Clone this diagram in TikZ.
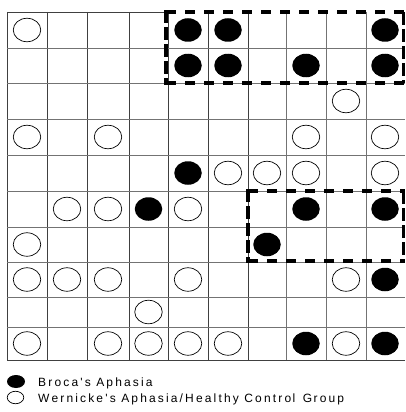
\documentclass[tikz,border=0pt]{standalone}
\usepackage{fontspec}
\usetikzlibrary{shapes.geometric}
\newfontfamily\legfont[LetterSpace=18]{Liberation Sans}
\begin{document}
\begin{tikzpicture}[x=1pt,y=-1pt,
  gridline/.style={line width=0.8pt,black!75},
  gridlight/.style={line width=0.8pt,black!55},
  dot/.style={ellipse,minimum width=27.5pt,minimum height=23.5pt,inner sep=0pt},
  fdot/.style={dot,fill=black},
  odot/.style={dot,draw=black,line width=0.7pt,fill=white},
  hdash/.style={line width=3.6pt,dash pattern=on 10pt off 9pt},
  vdash/.style={line width=3.6pt,dash pattern=on 13pt off 4pt},
  legtext/.style={anchor=base west,inner sep=0pt,font=\legfont\fontsize{12}{14}\selectfont}]
\useasboundingbox (0,0) rectangle (405,412);
% grid
\foreach \x in {7,47,87,129,168,208,248} \draw[gridline] (\x,12) -- (\x,360);
\foreach \x in {286,326,366} \draw[gridlight] (\x,12) -- (\x,360);
\draw[gridline] (7,12) -- (168,12);
\foreach \y in {48,83,119,155,191,227,262,297,327} \draw[gridlight] (7,\y) -- (405,\y);
\draw[gridline] (7,360) -- (405,360);
% circles
\def\cx{{0,27,67,108,148.5,188,228,267,306,346,385}}
\def\cy{{0,30,65.5,101,137,173,209,244.5,279.5,312,343.5}}
\foreach \c/\r in {5/1,6/1,10/1,5/2,6/2,8/2,10/2,5/5,4/6,8/6,10/6,7/7,10/8,8/10,10/10}{
  \pgfmathsetmacro\px{\cx[\c]}\pgfmathsetmacro\py{\cy[\r]}
  \node[fdot] (f-\c-\r) at (\px,\py) {};}
\foreach \c/\r in {1/1,9/3,1/4,3/4,8/4,10/4,6/5,7/5,8/5,10/5,2/6,3/6,5/6,1/7,1/8,2/8,3/8,5/8,9/8,4/9,1/10,3/10,4/10,5/10,6/10,9/10}{
  \pgfmathsetmacro\px{\cx[\c]}\pgfmathsetmacro\py{\cy[\r]}
  \node[odot] (o-\c-\r) at (\px,\py) {};}
% dashed boxes
\draw[hdash] (166,12) -- (405,12);
\draw[hdash] (166,83) -- (405,83);
\draw[vdash] (166,10.2) -- (166,84.8);
\draw[vdash,line width=2.6pt] (403.7,12) -- (403.7,83);
\draw[hdash] (248,191) -- (405,191);
\draw[hdash] (248,261) -- (405,261);
\draw[vdash,line width=3.4pt] (248,189.3) -- (248,262.7);
\draw[vdash,line width=2.6pt] (403.7,191) -- (403.7,261);
% legend
\node[ellipse,fill=black,minimum width=18pt,minimum height=13pt,inner sep=0pt] (lf) at (16,381.5) {};
\node[ellipse,draw=black,line width=0.7pt,minimum width=16.5pt,minimum height=12.5pt,inner sep=0pt] (lo) at (15.5,397.5) {};
\node[legtext] (tf) at (38,386) {Broca's Aphasia};
\node[legtext] (to) at (38,402) {W\kern2pt ernicke's Aphasia/Healthy Contro\kern1.5pt l\kern2pt\ G\kern1.5pt roup};
\end{tikzpicture}
\end{document}
